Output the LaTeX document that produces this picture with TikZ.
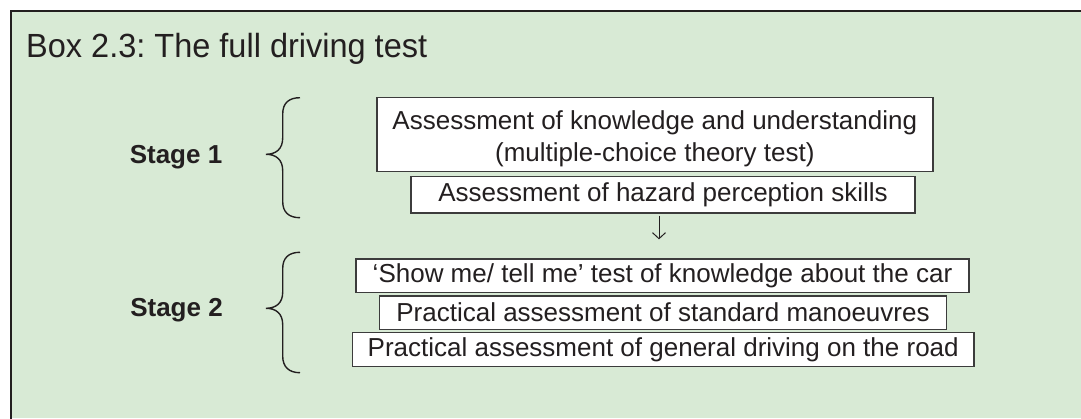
\documentclass[tikz,border=0pt]{standalone}
\usepackage{fontspec}
\setmainfont{Liberation Sans}
\usetikzlibrary{arrows.meta}
\definecolor{panelgreen}{RGB}{216,234,213}
\definecolor{inkdark}{RGB}{35,31,32}
\definecolor{boxline}{RGB}{60,60,60}
\frenchspacing
\begin{document}
\begin{tikzpicture}[x=1pt,y=-1pt,
 stagebox/.style={draw=boxline, line width=1.4pt, fill=white, inner sep=0pt, align=center, font=\fontsize{26}{32}\selectfont, text=inkdark},
 stagetext/.style={inner sep=0pt, align=center, font=\fontsize{26}{32}\selectfont, text=inkdark},
 stagelabel/.style={font=\bfseries\fontsize{26}{30}\selectfont, text=inkdark, inner sep=0pt},
 bracestyle/.style={draw=inkdark, line width=1.4pt},
 flowarrow/.style={draw=inkdark, line width=1pt, -{Straight Barb[length=6pt,width=13pt]}}]
\useasboundingbox (0,0) rectangle (1081,418);
\fill[white] (0,0) rectangle (1081,418);
\fill[panelgreen] (11,11) rectangle (1081,418);
\draw[inkdark, line width=2pt] (11,419) -- (11,11) -- (1082,11);
\node[anchor=base west, font=\fontsize{33.5}{38}\selectfont, text=inkdark, inner sep=0pt] (title) at (26,57) {\scalebox{0.97}[1]{Box 2.3: The full driving test}};

\node[stagelabel] (s1) at (176,157) {Stage 1};
\node[stagelabel] (s2) at (176.5,310) {Stage 2};

\node[stagebox, minimum width=556pt, minimum height=74pt] (b1) at (654.8,134.7) {};
\node[stagetext] (b1text) at ([yshift=-3.8pt]b1.center) {Assessment of knowledge and understanding\\(multiple-choice theory test)};
\node[stagebox, minimum width=504pt, minimum height=36.5pt] (b2) at (663,194.7) {Assessment of hazard perception skills};
\node[stagebox, minimum width=613pt, minimum height=33.3pt] (b3) at (662.5,275.7) {`Show me/ tell me' test of knowledge about the car};
\node[stagebox, minimum width=567.4pt, minimum height=33.3pt] (b4) at (663,312.7) {Practical assessment of standard manoeuvres};
\node[stagebox, minimum width=621.7pt, minimum height=34pt] (b5) at (663.2,349.7) {Practical assessment of general driving on the road};

\draw[flowarrow, shorten <=2pt, shorten >=19pt] ([xshift=-4pt]b2.south) -- ([xshift=-3.5pt]b3.north);

\draw[bracestyle] (300,97.7) .. controls (289,97.7) and (282.7,103) .. (282.7,114) -- (282.7,138) .. controls (282.7,149) and (276,154.3) .. (266,154.3) .. controls (276,154.3) and (282.7,159.6) .. (282.7,170.6) -- (282.7,201.4) .. controls (282.7,212.4) and (289,217.7) .. (300,217.7);
\draw[bracestyle] (300,252.3) .. controls (289,252.3) and (282.7,257.6) .. (282.7,268.6) -- (282.7,292.3) .. controls (282.7,303) and (276,308.3) .. (266,308.3) .. controls (276,308.3) and (282.7,313.6) .. (282.7,324.6) -- (282.7,356) .. controls (282.7,367) and (289,372.7) .. (300,372.7);
\end{tikzpicture}
\end{document}
